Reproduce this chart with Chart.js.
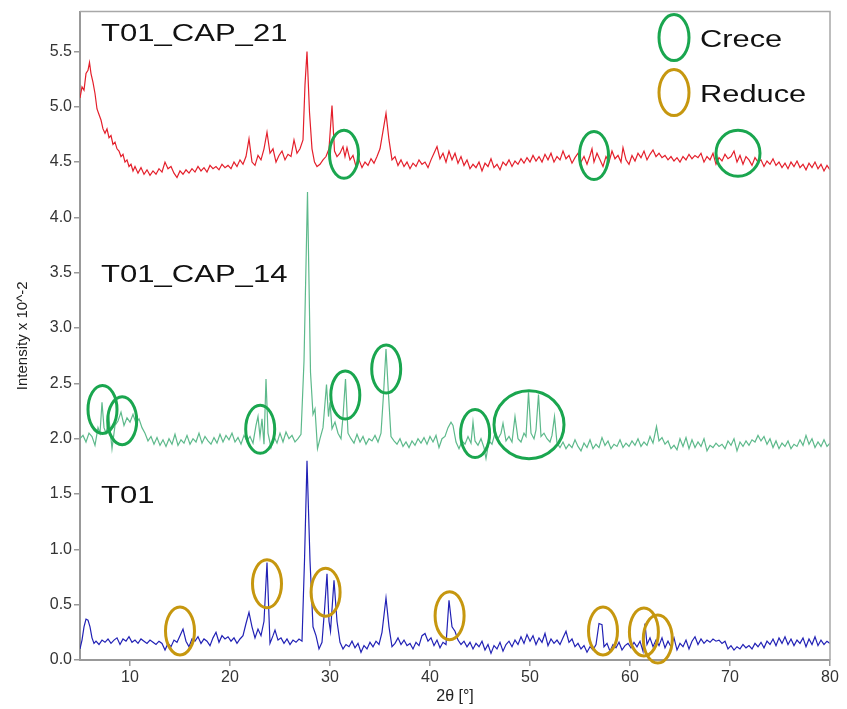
<!DOCTYPE html>
<html>
<head>
<meta charset="utf-8">
<script src="https://cdn.jsdelivr.net/npm/chart.js@4"></script>
<style>
  html, body { margin: 0; padding: 0; background: #fff; }
  #wrap { width: 847px; height: 709px; position: relative; }
</style>
</head>
<body>
<div id="wrap"><canvas id="xrd"></canvas></div>
<script>
// XRD patterns, 2θ (deg) vs intensity x 10^-2

const X_TICKS = [10, 20, 30, 40, 50, 60, 70, 80];
const Y_TICKS = [0, 0.5, 1, 1.5, 2, 2.5, 3, 3.5, 4, 4.5, 5, 5.5];

const T01 = [
  [5.0,0.10],[5.2,0.18],[5.4,0.30],[5.6,0.37],[5.8,0.36],[6.0,0.30],[6.2,0.20],[6.4,0.15],[6.6,0.17],[6.9,0.14],
  [7.2,0.18],[7.5,0.16],[7.8,0.19],[8.1,0.15],[8.4,0.18],[8.7,0.20],[9.0,0.14],[9.3,0.19],[9.6,0.17],[9.9,0.21],
  [10.2,0.16],[10.5,0.18],[10.8,0.15],[11.1,0.19],[11.4,0.17],[11.7,0.15],[12.0,0.18],[12.3,0.16],[12.6,0.14],[12.9,0.17],
  [13.2,0.15],[13.5,0.09],[13.8,0.15],[14.1,0.12],[14.4,0.18],[14.7,0.16],[15.0,0.22],[15.3,0.28],[15.6,0.17],[15.9,0.12],
  [16.2,0.19],[16.5,0.17],[16.8,0.21],[17.1,0.15],[17.4,0.19],[17.7,0.17],[18.0,0.13],[18.3,0.20],[18.6,0.25],[18.9,0.16],
  [19.2,0.22],[19.5,0.19],[19.8,0.21],[20.1,0.17],[20.4,0.20],[20.7,0.15],[21.0,0.19],[21.3,0.22],[21.6,0.33],[21.9,0.43],
  [22.2,0.30],[22.5,0.20],[22.8,0.28],[23.1,0.22],[23.4,0.35],[23.7,0.88],[24.0,0.15],[24.3,0.22],[24.5,0.27],[24.8,0.18],
  [25.1,0.20],[25.4,0.15],[25.7,0.19],[26.0,0.14],[26.3,0.18],[26.6,0.16],[26.9,0.19],[27.2,0.17],[27.45,0.90],[27.7,1.80],
  [28.0,0.90],[28.3,0.30],[28.6,0.22],[28.9,0.10],[29.2,0.16],[29.45,0.45],[29.7,0.78],[29.9,0.35],[30.05,0.26],[30.4,0.72],
  [30.7,0.35],[31.0,0.16],[31.3,0.10],[31.6,0.14],[31.9,0.12],[32.2,0.17],[32.5,0.11],[32.8,0.15],[33.1,0.07],[33.4,0.13],
  [33.7,0.10],[34.0,0.16],[34.3,0.12],[34.6,0.17],[34.9,0.14],[35.2,0.25],[35.6,0.56],[35.9,0.30],[36.2,0.12],[36.5,0.15],
  [36.8,0.20],[37.1,0.14],[37.4,0.18],[37.7,0.13],[38.0,0.15],[38.3,0.10],[38.6,0.16],[38.9,0.13],[39.2,0.22],[39.5,0.24],
  [39.8,0.17],[40.1,0.20],[40.4,0.13],[40.7,0.18],[41.0,0.11],[41.3,0.16],[41.6,0.14],[41.9,0.54],[42.2,0.30],[42.5,0.26],
  [42.8,0.18],[43.1,0.14],[43.4,0.17],[43.7,0.12],[44.0,0.16],[44.3,0.10],[44.6,0.15],[44.9,0.12],[45.2,0.17],[45.5,0.09],
  [45.8,0.14],[46.1,0.06],[46.4,0.13],[46.7,0.10],[47.0,0.16],[47.3,0.08],[47.6,0.14],[47.9,0.17],[48.2,0.12],[48.5,0.18],
  [48.8,0.14],[49.1,0.21],[49.4,0.15],[49.7,0.23],[50.0,0.17],[50.3,0.22],[50.6,0.14],[50.9,0.20],[51.2,0.16],[51.5,0.24],
  [51.8,0.13],[52.1,0.19],[52.4,0.15],[52.7,0.18],[53.0,0.14],[53.3,0.20],[53.6,0.26],[53.9,0.16],[54.2,0.19],[54.5,0.12],
  [54.8,0.15],[55.1,0.10],[55.4,0.13],[55.7,0.07],[56.0,0.12],[56.3,0.09],[56.6,0.14],[56.9,0.33],[57.2,0.32],[57.4,0.12],
  [57.7,0.15],[58.0,0.08],[58.3,0.14],[58.6,0.11],[58.9,0.16],[59.2,0.09],[59.5,0.13],[59.8,0.15],[60.1,0.11],[60.4,0.16],
  [60.7,0.12],[61.0,0.17],[61.3,0.08],[61.5,0.33],[61.7,0.14],[62.0,0.20],[62.3,0.12],[62.6,0.18],[62.9,0.13],[63.2,0.20],
  [63.5,0.11],[63.8,0.17],[64.1,0.12],[64.4,0.20],[64.7,0.09],[65.0,0.15],[65.3,0.12],[65.6,0.18],[65.9,0.10],[66.2,0.17],
  [66.5,0.21],[66.8,0.14],[67.1,0.19],[67.4,0.15],[67.7,0.18],[68.0,0.16],[68.3,0.19],[68.6,0.17],[68.9,0.18],[69.2,0.15],
  [69.5,0.17],[69.8,0.10],[70.1,0.13],[70.4,0.09],[70.7,0.12],[71.0,0.10],[71.3,0.14],[71.6,0.11],[71.9,0.13],[72.2,0.10],
  [72.5,0.15],[72.8,0.12],[73.1,0.16],[73.4,0.11],[73.7,0.17],[74.0,0.14],[74.3,0.19],[74.6,0.13],[74.9,0.20],[75.2,0.15],
  [75.5,0.21],[75.8,0.14],[76.1,0.19],[76.4,0.13],[76.7,0.18],[77.0,0.15],[77.3,0.20],[77.6,0.12],[77.9,0.19],[78.2,0.14],
  [78.5,0.21],[78.8,0.13],[79.1,0.18],[79.4,0.14],[79.7,0.17],[80.0,0.15]
];

const T01_CAP_14 = [
  [5.0,2.00],[5.3,2.03],[5.6,1.97],[5.9,2.05],[6.2,2.02],[6.5,1.94],[6.8,2.10],[7.0,2.05],[7.2,2.33],[7.4,2.10],
  [7.6,2.05],[7.9,2.18],[8.2,1.91],[8.5,2.12],[8.8,2.16],[9.1,2.24],[9.4,2.12],[9.7,2.19],[10.0,2.15],[10.3,2.22],
  [10.6,2.14],[10.9,2.18],[11.2,2.10],[11.5,2.05],[11.8,1.98],[12.1,2.02],[12.4,1.95],[12.7,2.01],[13.0,1.94],[13.3,1.99],
  [13.6,1.93],[13.9,2.00],[14.2,1.95],[14.5,2.04],[14.8,1.94],[15.1,1.99],[15.4,1.96],[15.7,2.03],[16.0,1.95],[16.3,2.00],
  [16.6,1.97],[16.9,2.05],[17.2,1.96],[17.5,2.02],[17.8,1.98],[18.1,1.95],[18.4,2.01],[18.7,1.96],[19.0,2.04],[19.3,1.97],
  [19.6,2.03],[19.9,1.99],[20.2,2.05],[20.5,1.97],[20.8,2.01],[21.1,1.95],[21.4,2.03],[21.7,1.98],[22.0,2.02],[22.3,1.96],
  [22.6,2.12],[22.8,2.20],[23.0,2.02],[23.2,2.18],[23.4,1.95],[23.6,2.54],[23.8,2.05],[24.1,1.92],[24.4,2.02],[24.7,1.96],
  [25.0,2.05],[25.3,1.97],[25.6,2.06],[25.9,2.00],[26.2,2.03],[26.5,1.97],[26.8,2.00],[27.1,2.04],[27.4,2.70],[27.75,4.23],
  [28.05,2.60],[28.3,2.22],[28.5,2.27],[28.75,1.91],[29.0,2.00],[29.3,2.10],[29.65,2.49],[29.85,2.20],[30.0,2.33],[30.2,2.09],
  [30.5,2.15],[30.8,2.05],[31.1,2.00],[31.3,2.20],[31.55,2.54],[31.8,2.05],[32.1,2.00],[32.4,1.96],[32.7,2.04],[33.0,1.97],
  [33.3,2.02],[33.6,1.95],[33.9,2.00],[34.2,1.98],[34.5,2.03],[34.8,1.97],[35.1,2.05],[35.35,2.40],[35.6,2.81],[35.85,2.40],
  [36.1,2.02],[36.4,1.98],[36.7,1.95],[37.0,2.00],[37.3,1.93],[37.6,1.97],[37.9,1.92],[38.2,1.98],[38.5,1.94],[38.8,2.00],
  [39.1,1.96],[39.4,2.01],[39.7,1.95],[40.0,2.02],[40.3,1.97],[40.6,2.03],[40.9,1.92],[41.2,2.00],[41.5,2.02],[41.8,2.10],
  [42.1,2.15],[42.3,2.12],[42.6,1.97],[42.9,1.91],[43.2,1.98],[43.5,1.95],[43.8,2.02],[44.1,1.96],[44.3,2.15],[44.5,1.98],
  [44.8,1.94],[45.1,2.00],[45.4,1.92],[45.6,1.82],[45.9,1.98],[46.2,1.95],[46.5,2.05],[46.8,2.00],[47.1,2.05],[47.3,2.14],
  [47.6,1.98],[47.9,2.02],[48.2,1.97],[48.5,2.20],[48.8,2.00],[49.1,1.97],[49.4,2.05],[49.6,2.02],[49.85,2.42],[50.1,2.05],
  [50.4,2.00],[50.6,2.08],[50.85,2.40],[51.1,2.02],[51.4,2.05],[51.7,2.00],[52.0,1.97],[52.2,2.03],[52.45,2.20],[52.7,1.96],
  [53.0,1.92],[53.3,1.97],[53.6,1.91],[53.9,1.95],[54.2,1.92],[54.5,1.99],[54.8,1.93],[55.1,1.89],[55.4,1.96],[55.7,1.92],
  [56.0,1.99],[56.3,1.91],[56.6,1.95],[56.9,1.92],[57.2,2.01],[57.5,1.94],[57.8,1.98],[58.1,1.91],[58.4,1.95],[58.7,1.93],
  [59.0,1.99],[59.3,1.92],[59.6,1.96],[59.9,1.93],[60.2,1.98],[60.5,1.94],[60.8,2.00],[61.1,1.93],[61.4,1.97],[61.7,1.94],
  [62.0,2.02],[62.3,1.96],[62.65,2.11],[62.9,1.98],[63.2,2.01],[63.5,1.95],[63.8,1.98],[64.1,1.91],[64.4,1.94],[64.7,1.90],
  [65.0,2.00],[65.3,1.93],[65.6,2.01],[65.9,1.91],[66.2,1.99],[66.5,1.92],[66.8,1.97],[67.1,1.93],[67.4,2.00],[67.7,1.89],
  [68.0,1.94],[68.3,1.92],[68.6,1.96],[68.9,1.93],[69.2,1.95],[69.5,1.91],[69.8,1.98],[70.1,1.94],[70.4,2.00],[70.7,1.89],
  [71.0,1.97],[71.3,1.93],[71.6,1.98],[71.9,1.94],[72.2,1.99],[72.5,1.97],[72.8,2.03],[73.1,1.98],[73.4,2.02],[73.7,1.95],
  [74.0,2.00],[74.3,1.92],[74.6,1.98],[74.9,1.91],[75.2,1.96],[75.5,1.93],[75.8,1.98],[76.1,1.91],[76.4,1.95],[76.7,1.93],
  [77.0,1.99],[77.3,1.94],[77.6,2.03],[77.9,1.95],[78.2,2.00],[78.5,1.92],[78.8,1.97],[79.1,1.93],[79.4,1.99],[79.7,1.93],
  [80.0,1.96]
];

const T01_CAP_21 = [
  [5.0,5.08],[5.2,5.18],[5.4,5.15],[5.6,5.30],[5.8,5.33],[5.95,5.40],[6.1,5.30],[6.3,5.22],[6.5,5.12],[6.7,4.98],
  [6.9,4.93],[7.1,4.88],[7.3,4.80],[7.5,4.76],[7.7,4.80],[7.9,4.72],[8.1,4.74],[8.3,4.66],[8.5,4.68],[8.7,4.62],
  [8.9,4.60],[9.1,4.55],[9.3,4.57],[9.5,4.50],[9.7,4.52],[9.9,4.46],[10.1,4.48],[10.3,4.42],[10.5,4.46],[10.8,4.40],
  [11.1,4.45],[11.4,4.39],[11.7,4.43],[12.0,4.38],[12.3,4.42],[12.6,4.39],[12.9,4.44],[13.2,4.41],[13.5,4.50],[13.8,4.44],
  [14.1,4.46],[14.4,4.40],[14.7,4.36],[15.0,4.42],[15.3,4.39],[15.6,4.43],[15.9,4.40],[16.2,4.44],[16.5,4.41],[16.8,4.46],
  [17.1,4.42],[17.4,4.45],[17.7,4.41],[18.0,4.47],[18.3,4.44],[18.6,4.46],[18.9,4.43],[19.2,4.48],[19.5,4.45],[19.8,4.47],
  [20.1,4.44],[20.4,4.50],[20.7,4.46],[21.0,4.52],[21.3,4.48],[21.6,4.55],[21.9,4.71],[22.2,4.50],[22.5,4.47],[22.8,4.56],
  [23.1,4.52],[23.4,4.62],[23.7,4.77],[24.0,4.58],[24.3,4.62],[24.6,4.50],[24.9,4.56],[25.2,4.60],[25.5,4.52],[25.8,4.57],
  [26.1,4.55],[26.4,4.70],[26.7,4.58],[27.0,4.62],[27.3,4.70],[27.5,5.20],[27.7,5.50],[27.95,4.95],[28.2,4.62],[28.45,4.50],
  [28.7,4.46],[29.0,4.48],[29.3,4.52],[29.6,4.55],[29.9,4.62],[30.2,5.01],[30.45,4.60],[30.7,4.55],[31.0,4.58],[31.3,4.64],
  [31.5,4.55],[31.7,4.63],[32.0,4.52],[32.3,4.56],[32.6,4.46],[32.9,4.52],[33.2,4.45],[33.5,4.50],[33.8,4.47],[34.1,4.53],
  [34.4,4.49],[34.7,4.55],[35.0,4.62],[35.3,4.78],[35.6,4.94],[35.9,4.70],[36.2,4.52],[36.5,4.55],[36.8,4.47],[37.1,4.52],
  [37.4,4.46],[37.7,4.50],[38.0,4.44],[38.3,4.49],[38.6,4.46],[38.9,4.52],[39.2,4.48],[39.5,4.50],[39.8,4.45],[40.1,4.52],
  [40.4,4.58],[40.7,4.64],[41.0,4.53],[41.3,4.58],[41.6,4.50],[41.9,4.60],[42.2,4.52],[42.5,4.58],[42.8,4.49],[43.1,4.55],
  [43.4,4.47],[43.7,4.52],[44.0,4.44],[44.3,4.48],[44.6,4.45],[44.9,4.50],[45.2,4.42],[45.5,4.49],[45.8,4.46],[46.1,4.53],
  [46.4,4.45],[46.7,4.48],[47.0,4.43],[47.3,4.50],[47.6,4.47],[47.9,4.52],[48.2,4.46],[48.5,4.51],[48.8,4.48],[49.1,4.53],
  [49.4,4.49],[49.7,4.54],[50.0,4.50],[50.3,4.56],[50.6,4.51],[50.9,4.55],[51.2,4.50],[51.5,4.57],[51.8,4.52],[52.1,4.58],
  [52.4,4.50],[52.7,4.55],[53.0,4.52],[53.3,4.60],[53.6,4.53],[53.9,4.56],[54.2,4.49],[54.5,4.54],[54.8,4.58],[55.1,4.50],
  [55.4,4.55],[55.7,4.48],[56.0,4.56],[56.2,4.62],[56.4,4.50],[56.7,4.58],[57.0,4.52],[57.3,4.46],[57.6,4.55],[57.9,4.50],
  [58.2,4.60],[58.5,4.53],[58.8,4.56],[59.1,4.50],[59.3,4.63],[59.6,4.52],[59.9,4.48],[60.2,4.56],[60.5,4.51],[60.8,4.58],
  [61.1,4.54],[61.4,4.60],[61.7,4.52],[62.0,4.57],[62.3,4.61],[62.6,4.55],[62.9,4.58],[63.2,4.54],[63.5,4.56],[63.8,4.52],
  [64.1,4.55],[64.4,4.51],[64.7,4.54],[65.0,4.50],[65.3,4.55],[65.6,4.52],[65.9,4.57],[66.2,4.53],[66.5,4.56],[66.8,4.54],
  [67.1,4.58],[67.4,4.50],[67.7,4.55],[68.0,4.52],[68.3,4.58],[68.6,4.48],[68.9,4.54],[69.2,4.51],[69.5,4.57],[69.8,4.53],
  [70.1,4.55],[70.4,4.60],[70.7,4.50],[71.0,4.56],[71.3,4.48],[71.6,4.55],[71.9,4.52],[72.2,4.47],[72.5,4.54],[72.8,4.50],
  [73.1,4.52],[73.4,4.46],[73.7,4.51],[74.0,4.48],[74.3,4.53],[74.6,4.47],[74.9,4.50],[75.2,4.45],[75.5,4.49],[75.8,4.44],
  [76.1,4.50],[76.4,4.46],[76.7,4.51],[77.0,4.45],[77.3,4.48],[77.6,4.43],[77.9,4.49],[78.2,4.45],[78.5,4.50],[78.8,4.44],
  [79.1,4.48],[79.4,4.42],[79.7,4.47],[80.0,4.43]
];

// pattern names, placed at (2θ, intensity)
const SERIES_LABELS = [
  ['T01_CAP_21', 7.1, 5.59],
  ['T01_CAP_14', 7.1, 3.42],
  ['T01', 7.1, 1.42],
];

// ellipse marks, centre at (2θ, intensity)
const GROW_MARKS = [
  [31.4, 4.57], [56.4, 4.56], [70.8, 4.58],
  [7.25, 2.265], [9.22, 2.163], [23.02, 2.085], [31.53, 2.394], [35.62, 2.63], [44.51, 2.047], [49.9, 2.127],
];
const DROP_MARKS = [
  [15.0, 0.263], [23.7, 0.689], [29.56, 0.613], [41.96, 0.401], [57.3, 0.263], [61.39, 0.254], [62.78, 0.189],
];
const BIG_MARKS = { '70.8': [22, 23], '49.9': [35, 34] };

const GREEN = '#1aa64f';
const GOLD = '#c6970f';
const FONT = '"Liberation Sans", Arial, sans-serif';

function stretchedText(ctx, text, x, y, size, sx) {
  ctx.save();
  ctx.translate(x, y);
  ctx.scale(sx, 1);
  ctx.font = size + 'px ' + FONT;
  ctx.fillStyle = '#111';
  ctx.textAlign = 'left';
  ctx.textBaseline = 'alphabetic';
  ctx.fillText(text, 0, 0);
  ctx.restore();
}

function ellipse(ctx, x, y, rx, ry, color) {
  ctx.save();
  ctx.beginPath();
  ctx.ellipse(x, y, rx, ry, 0, 0, Math.PI * 2);
  ctx.strokeStyle = color;
  ctx.lineWidth = 3;
  ctx.stroke();
  ctx.restore();
}

const marksPlugin = {
  id: 'marks',
  afterDatasetsDraw(chart) {
    const { ctx, chartArea: a, scales: { x, y } } = chart;
    // light frame on top and right
    ctx.save();
    ctx.strokeStyle = '#a8a8a8';
    ctx.lineWidth = 1.5;
    ctx.beginPath();
    ctx.moveTo(a.left, a.top);
    ctx.lineTo(a.right, a.top);
    ctx.lineTo(a.right, a.bottom);
    ctx.stroke();
    ctx.restore();

    SERIES_LABELS.forEach(([t, px, py]) => stretchedText(ctx, t, x.getPixelForValue(px), y.getPixelForValue(py), 23, 1.35));

    GROW_MARKS.forEach(([px, py]) => {
      const r = BIG_MARKS[String(px)] || [14.5, 24];
      ellipse(ctx, x.getPixelForValue(px), y.getPixelForValue(py), r[0], r[1], GREEN);
    });
    DROP_MARKS.forEach(([px, py]) => ellipse(ctx, x.getPixelForValue(px), y.getPixelForValue(py), 14.5, 24, GOLD));

    // legend box, top right
    const lx = a.right - 156;
    ellipse(ctx, lx, a.top + 26, 15, 23, GREEN);
    ellipse(ctx, lx, a.top + 81, 15, 23, GOLD);
    stretchedText(ctx, 'Crece', lx + 26, a.top + 35, 23, 1.34);
    stretchedText(ctx, 'Reduce', lx + 26, a.top + 90, 23, 1.34);
  },
};

function line(data, color) {
  return {
    data: data.map(([x, y]) => ({ x, y })),
    borderColor: color,
    borderWidth: 1.2,
    pointRadius: 0,
    tension: 0,
    fill: false,
  };
}

new Chart(document.getElementById('xrd'), {
  type: 'line',
  data: {
    datasets: [
      line(T01_CAP_21, '#e41f2b'),
      line(T01_CAP_14, '#5db98b'),
      line(T01, '#2121b5'),
    ],
  },
  options: {
    responsive: true,
    maintainAspectRatio: false,
    animation: false,
    events: [],
    layout: { padding: { top: 7, right: 17, left: 0, bottom: 0 } },
    plugins: { legend: { display: false }, tooltip: { enabled: false } },
    scales: {
      x: {
        type: 'linear',
        min: 5,
        max: 80,
        afterBuildTicks: (s) => { s.ticks = X_TICKS.map((v) => ({ value: v })); },
        afterFit: (s) => { s.height = 49; },
        ticks: { color: '#333', font: { family: FONT, size: 16 }, padding: 2, maxRotation: 0 },
        grid: { display: true, drawOnChartArea: false, drawTicks: true, tickLength: 6, color: '#999', lineWidth: 1.5 },
        border: { display: true, color: '#999', width: 2 },
        title: { display: true, text: '2θ [°]', color: '#222', font: { family: FONT, size: 16 }, padding: { top: 0, bottom: 3 } },
      },
      y: {
        min: 0,
        max: 5.86,
        afterBuildTicks: (s) => { s.ticks = Y_TICKS.map((v) => ({ value: v })); },
        afterFit: (s) => { s.width = 80; },
        ticks: { color: '#333', font: { family: FONT, size: 16 }, padding: 2, callback: (v) => Number(v).toFixed(1) },
        grid: { display: true, drawOnChartArea: false, drawTicks: true, tickLength: 6, color: '#999', lineWidth: 1.5 },
        border: { display: true, color: '#999', width: 2 },
        title: { display: true, text: 'Intensity x 10^-2', color: '#222', font: { family: FONT, size: 15 }, padding: { top: 14, bottom: 0 } },
      },
    },
  },
  plugins: [marksPlugin],
});
</script>
</body>
</html>
